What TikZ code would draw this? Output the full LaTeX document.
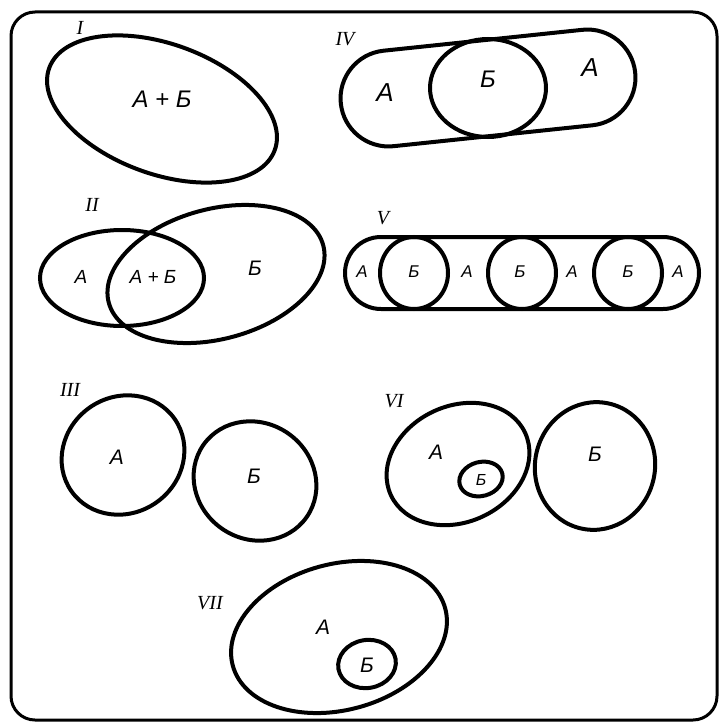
\documentclass[tikz,border=0pt]{standalone}
\usepackage{fontspec}
\setmainfont{Liberation Sans}
\newfontfamily\numfont{Liberation Serif}
\begin{document}
\begin{tikzpicture}[x=0.5pt,y=-0.5pt,
  set/.style={line width=2pt},
  lab/.style={inner sep=0pt, font=\itshape\fontsize{#1}{#1}\selectfont},
  lab/.default=10.5,
  num/.style={inner sep=0pt, font=\numfont\itshape\fontsize{10}{10}\selectfont}]
\useasboundingbox (0,0) rectangle (720,722);
% frame
\draw[line width=1.5pt, rounded corners=12pt] (11,12) rectangle (717,720);

% ---------- I ----------
\node[num] (nI) at (80,28) {I};
\draw[set, rotate around={-20:(162,109)}] (162,109) ellipse [x radius=120, y radius=65];
\node[lab=12] (tI) at (162,99) {A + Б};

% ---------- IV ----------
\node[num] (nIV) at (345,39) {IV};
\begin{scope}[shift={(488,88)}, rotate=6]
  \draw[set] (-100,-48) -- (100,-48) arc[start angle=-90, end angle=90, radius=48]
     -- (-100,48) arc[start angle=90, end angle=270, radius=48] -- cycle;
\end{scope}
\draw[set] (488,88) ellipse [x radius=58, y radius=49];
\node[lab=13] (tIVa) at (385,93) {A};
\node[lab=12] (tIVb) at (488,79) {Б};
\node[lab=13] (tIVc) at (590,68) {A};

% ---------- II ----------
\node[num] (nII) at (92,205) {II};
\draw[set] (122,278) ellipse [x radius=82, y radius=48];
\draw[set, rotate around={15:(216,274)}] (216,274) ellipse [x radius=111, y radius=65];
\node[lab=9.5] (tIIa) at (81,277) {A};
\node[lab=9.5] (tIIab) at (153,277) {A + Б};
\node[lab=10.5] (tIIb) at (255,268) {Б};

% ---------- V ----------
\node[num] (nV) at (383,218) {V};
\begin{scope}[shift={(522,273)}]
  \draw[set] (-141,-36) -- (141,-36) arc[start angle=-90, end angle=90, radius=36]
     -- (-141,36) arc[start angle=90, end angle=270, radius=36] -- cycle;
\end{scope}
\draw[set] (414,273) ellipse [x radius=34, y radius=36];
\draw[set] (522,273) ellipse [x radius=34, y radius=36];
\draw[set] (628,273) ellipse [x radius=34, y radius=36];
\node[lab=8.5] (tVa1) at (362,272) {A};
\node[lab=8.5] (tVb1) at (414,272) {Б};
\node[lab=8.5] (tVa2) at (467,272) {A};
\node[lab=8.5] (tVb2) at (520,272) {Б};
\node[lab=8.5] (tVa3) at (572,272) {A};
\node[lab=8.5] (tVb3) at (628,272) {Б};
\node[lab=8.5] (tVa4) at (678,272) {A};

% ---------- III ----------
\node[num] (nIII) at (70,390) {III};
\draw[set, rotate around={35:(123,455)}] (123,455) ellipse [x radius=63, y radius=58];
\draw[set, rotate around={-35:(255,481)}] (255,481) ellipse [x radius=63, y radius=58];
\node[lab] (tIIIa) at (117,457) {A};
\node[lab] (tIIIb) at (254,476) {Б};

% ---------- VI ----------
\node[num] (nVI) at (394,401) {VI};
\draw[set, rotate around={25:(458,464)}] (458,464) ellipse [x radius=74, y radius=58];
\draw[set, rotate around={15:(481,479)}] (481,479) ellipse [x radius=22, y radius=17];
\draw[set, rotate around={-12:(595,466)}] (595,466) ellipse [x radius=60, y radius=64];
\node[lab] (tVIa) at (436,452) {A};
\node[lab=8] (tVIb) at (481,480) {Б};
\node[lab] (tVIc) at (595,454) {Б};

% ---------- VII ----------
\node[num] (nVII) at (210,603) {VII};
\draw[set, rotate around={15:(339,637)}] (339,637) ellipse [x radius=110, y radius=73];
\draw[set, rotate around={10:(367,664)}] (367,664) ellipse [x radius=29, y radius=24];
\node[lab] (tVIIa) at (323,627) {A};
\node[lab] (tVIIb) at (367,665) {Б};
\end{tikzpicture}
\end{document}
